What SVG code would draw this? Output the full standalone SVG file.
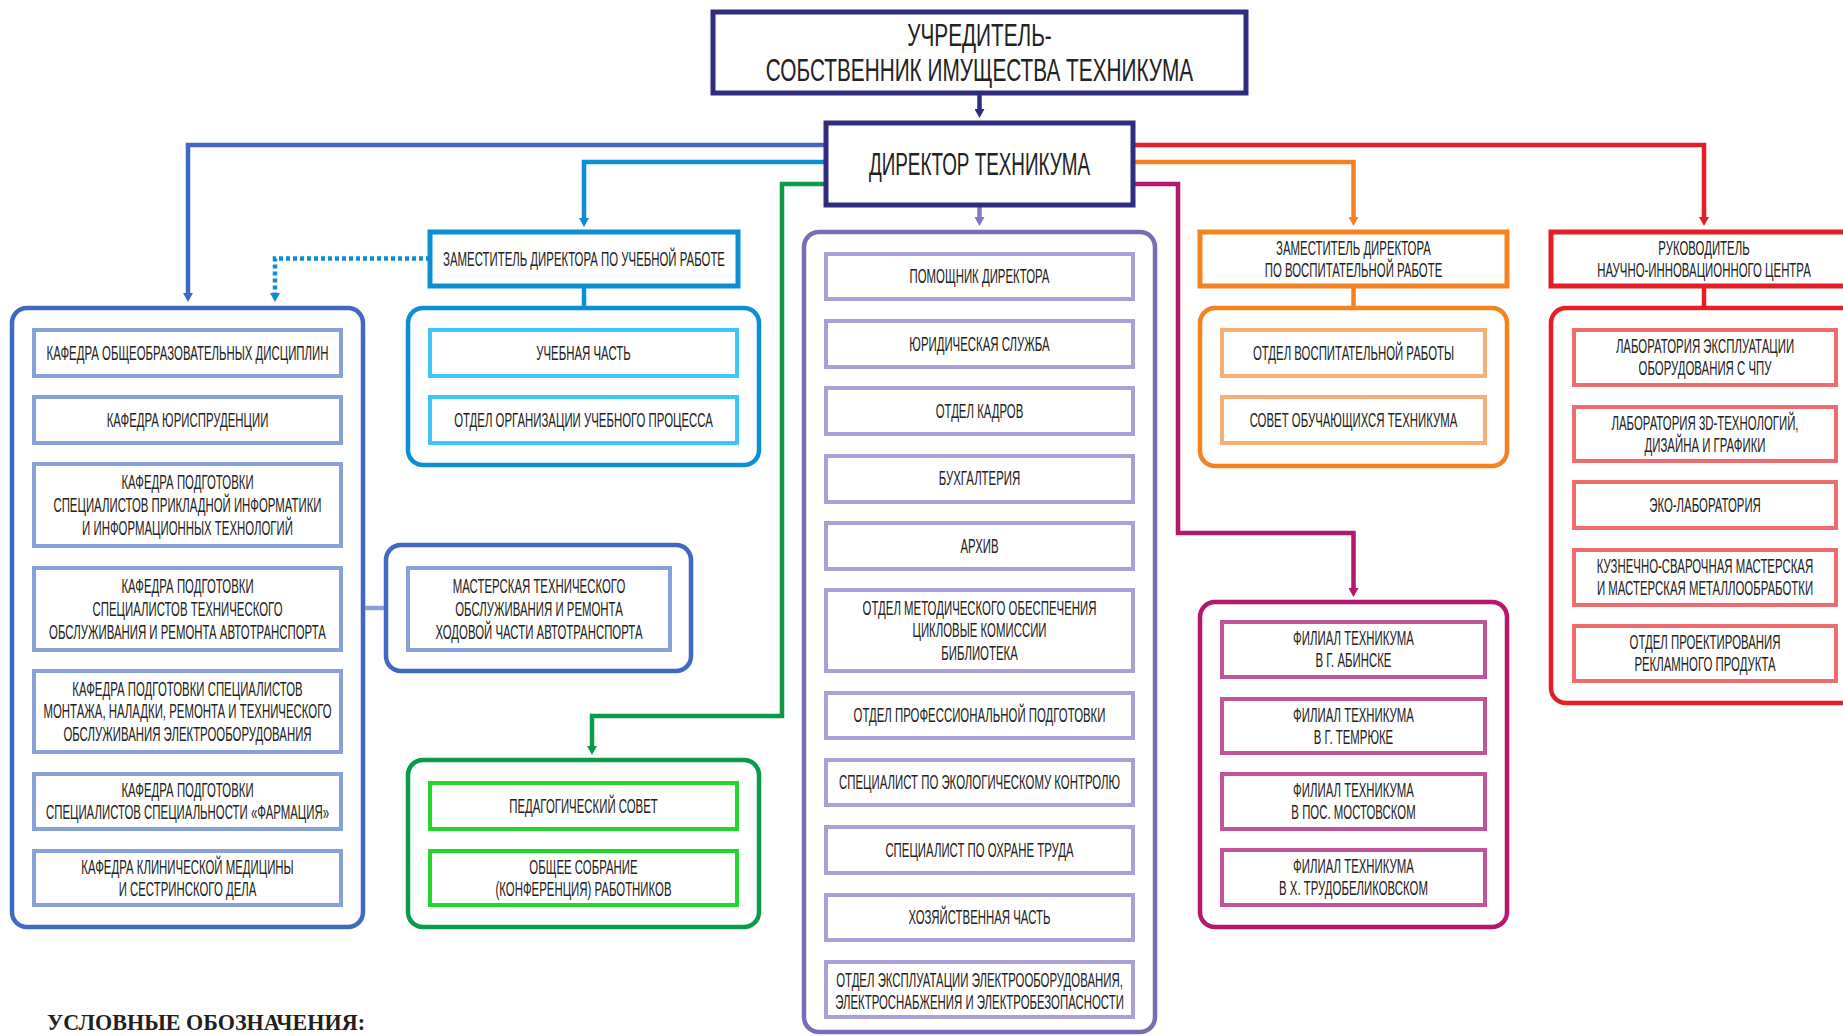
<svg xmlns="http://www.w3.org/2000/svg" width="1843" height="1036" viewBox="0 0 1843 1036">
<style>
.bg{fill:#fff}
.c{fill:#fff;stroke-width:4.5}
.ib{fill:#fff;stroke-width:4}
.hb{fill:#fff;stroke-width:5}
.ln{fill:none;stroke-width:4.5}
.t{font-family:'Liberation Sans',Arial,sans-serif;font-size:19.5px;fill:#222;text-anchor:middle}
.T{font-size:32px}
.navy{stroke:#302d7e}
.blue{stroke:#4169c3}
.blueL{stroke:#88a2d7}
.sky{stroke:#0b8fd3}
.skyL{stroke:#40c6f3}
.green{stroke:#0a9b48}
.greenL{stroke:#22d62a}
.purple{stroke:#7a6db5}
.purpleL{stroke:#aaa0d6}
.orange{stroke:#f58220}
.orangeL{stroke:#f7ae77}
.mag{stroke:#b5176e}
.magL{stroke:#c2559a}
.red{stroke:#e31e26}
.redL{stroke:#ef6b70}
.legend{font-family:'Liberation Serif','Times New Roman',serif;font-weight:bold;font-size:23px;fill:#231f20}
</style>
<defs>
<marker id="m-navy" viewBox="0 0 9 10" refX="4" refY="5" markerWidth="9" markerHeight="10" markerUnits="userSpaceOnUse" orient="auto"><path d="M0 0L9 5L0 10z" fill="#302d7e"/></marker>
<marker id="m-blue" viewBox="0 0 9 10" refX="4" refY="5" markerWidth="9" markerHeight="10" markerUnits="userSpaceOnUse" orient="auto"><path d="M0 0L9 5L0 10z" fill="#4169c3"/></marker>
<marker id="m-sky" viewBox="0 0 9 10" refX="4" refY="5" markerWidth="9" markerHeight="10" markerUnits="userSpaceOnUse" orient="auto"><path d="M0 0L9 5L0 10z" fill="#0b8fd3"/></marker>
<marker id="m-green" viewBox="0 0 9 10" refX="4" refY="5" markerWidth="9" markerHeight="10" markerUnits="userSpaceOnUse" orient="auto"><path d="M0 0L9 5L0 10z" fill="#0a9b48"/></marker>
<marker id="m-purple" viewBox="0 0 9 10" refX="4" refY="5" markerWidth="9" markerHeight="10" markerUnits="userSpaceOnUse" orient="auto"><path d="M0 0L9 5L0 10z" fill="#8178bf"/></marker>
<marker id="m-orange" viewBox="0 0 9 10" refX="4" refY="5" markerWidth="9" markerHeight="10" markerUnits="userSpaceOnUse" orient="auto"><path d="M0 0L9 5L0 10z" fill="#f58220"/></marker>
<marker id="m-mag" viewBox="0 0 9 10" refX="4" refY="5" markerWidth="9" markerHeight="10" markerUnits="userSpaceOnUse" orient="auto"><path d="M0 0L9 5L0 10z" fill="#b5176e"/></marker>
<marker id="m-red" viewBox="0 0 9 10" refX="4" refY="5" markerWidth="9" markerHeight="10" markerUnits="userSpaceOnUse" orient="auto"><path d="M0 0L9 5L0 10z" fill="#e31e26"/></marker>
</defs>
<rect class="bg" x="0" y="0" width="1843" height="1036"/>

<g id="connectors">
<path class="ln navy" d="M979.5 93V113" marker-end="url(#m-navy)"/>
<path class="ln blue" d="M826 145H188V297" marker-end="url(#m-blue)"/>
<path class="ln sky" d="M826 162H584V222" marker-end="url(#m-sky)"/>
<path class="ln green" d="M826 184H782V716H592V750" marker-end="url(#m-green)"/>
<path class="ln" stroke="#8178bf" d="M979.5 205V221" marker-end="url(#m-purple)"/>
<path class="ln red" d="M1133 145H1704V221" marker-end="url(#m-red)"/>
<path class="ln orange" d="M1133 162H1353.5V221" marker-end="url(#m-orange)"/>
<path class="ln mag" d="M1133 184H1178V533H1353.5V592" marker-end="url(#m-mag)"/>
<path class="ln sky" stroke-dasharray="4 3" d="M430 258.5H275V297" marker-end="url(#m-sky)"/>
<path class="ln sky" d="M584 286V308"/>
<path class="ln orange" d="M1353.5 286V308"/>
<path class="ln red" d="M1704 286V308"/>
<path class="ln blueL" d="M341 608H386"/>
</g>

<g id="founder">
<rect class="hb navy" x="713" y="12" width="533" height="81"/>
<text class="t T" transform="translate(979.5 0) scale(0.65 1)"><tspan x="0" y="46.5">УЧРЕДИТЕЛЬ-</tspan><tspan x="0" y="81">СОБСТВЕННИК ИМУЩЕСТВА ТЕХНИКУМА</tspan></text>
</g>

<g id="director">
<rect class="hb navy" x="826" y="123" width="307" height="82"/>
<text class="t T" transform="translate(979.5 0) scale(0.59 1)"><tspan x="0" y="175.5">ДИРЕКТОР ТЕХНИКУМА</tspan></text>
</g>

<g id="departments">
<rect class="c blue" x="12" y="308" width="351" height="619" rx="15"/>
<g id="dep1"><rect class="ib blueL" x="34" y="330" width="307" height="46"/>
<text class="t" transform="translate(187.5 0) scale(0.585 1)"><tspan x="0" y="360">КАФЕДРА ОБЩЕОБРАЗОВАТЕЛЬНЫХ ДИСЦИПЛИН</tspan></text></g>
<g id="dep2"><rect class="ib blueL" x="34" y="397" width="307" height="46"/>
<text class="t" transform="translate(187.5 0) scale(0.585 1)"><tspan x="0" y="427">КАФЕДРА ЮРИСПРУДЕНЦИИ</tspan></text></g>
<g id="dep3"><rect class="ib blueL" x="34" y="464" width="307" height="82"/>
<text class="t" transform="translate(187.5 0) scale(0.585 1)"><tspan x="0" y="489.3">КАФЕДРА ПОДГОТОВКИ</tspan><tspan x="0" y="512">СПЕЦИАЛИСТОВ ПРИКЛАДНОЙ ИНФОРМАТИКИ</tspan><tspan x="0" y="534.7">И ИНФОРМАЦИОННЫХ ТЕХНОЛОГИЙ</tspan></text></g>
<g id="dep4"><rect class="ib blueL" x="34" y="568" width="307" height="82"/>
<text class="t" transform="translate(187.5 0) scale(0.585 1)"><tspan x="0" y="593.3">КАФЕДРА ПОДГОТОВКИ</tspan><tspan x="0" y="616">СПЕЦИАЛИСТОВ ТЕХНИЧЕСКОГО</tspan><tspan x="0" y="638.7">ОБСЛУЖИВАНИЯ И РЕМОНТА АВТОТРАНСПОРТА</tspan></text></g>
<g id="dep5"><rect class="ib blueL" x="34" y="671" width="307" height="81"/>
<text class="t" transform="translate(187.5 0) scale(0.585 1)"><tspan x="0" y="696">КАФЕДРА ПОДГОТОВКИ СПЕЦИАЛИСТОВ</tspan><tspan x="0" y="718.5">МОНТАЖА, НАЛАДКИ, РЕМОНТА И ТЕХНИЧЕСКОГО</tspan><tspan x="0" y="741">ОБСЛУЖИВАНИЯ ЭЛЕКТРООБОРУДОВАНИЯ</tspan></text></g>
<g id="dep6"><rect class="ib blueL" x="34" y="774" width="307" height="55"/>
<text class="t" transform="translate(187.5 0) scale(0.585 1)"><tspan x="0" y="797.5">КАФЕДРА ПОДГОТОВКИ</tspan><tspan x="0" y="819.5">СПЕЦИАЛИСТОВ СПЕЦИАЛЬНОСТИ «ФАРМАЦИЯ»</tspan></text></g>
<g id="dep7"><rect class="ib blueL" x="34" y="851" width="307" height="54"/>
<text class="t" transform="translate(187.5 0) scale(0.585 1)"><tspan x="0" y="874">КАФЕДРА КЛИНИЧЕСКОЙ МЕДИЦИНЫ</tspan><tspan x="0" y="896">И СЕСТРИНСКОГО ДЕЛА</tspan></text></g>
</g>

<g id="workshop">
<rect class="c blue" x="386" y="545" width="305" height="126" rx="15"/>
<rect class="ib blueL" x="408" y="568" width="262" height="82"/>
<text class="t" transform="translate(539 0) scale(0.585 1)"><tspan x="0" y="593.3">МАСТЕРСКАЯ ТЕХНИЧЕСКОГО</tspan><tspan x="0" y="616">ОБСЛУЖИВАНИЯ И РЕМОНТА</tspan><tspan x="0" y="638.7">ХОДОВОЙ ЧАСТИ АВТОТРАНСПОРТА</tspan></text>
</g>

<g id="deputy-study">
<rect class="hb sky" x="430" y="232" width="308" height="54"/>
<text class="t" transform="translate(584 0) scale(0.585 1)"><tspan x="0" y="266">ЗАМЕСТИТЕЛЬ ДИРЕКТОРА ПО УЧЕБНОЙ РАБОТЕ</tspan></text>
</g>

<g id="study-units">
<rect class="c sky" x="408" y="308" width="351" height="157" rx="15"/>
<g id="study1"><rect class="ib skyL" x="430" y="330" width="307" height="46"/>
<text class="t" transform="translate(583.5 0) scale(0.585 1)"><tspan x="0" y="360">УЧЕБНАЯ ЧАСТЬ</tspan></text></g>
<g id="study2"><rect class="ib skyL" x="430" y="397" width="307" height="46"/>
<text class="t" transform="translate(583.5 0) scale(0.585 1)"><tspan x="0" y="427">ОТДЕЛ ОРГАНИЗАЦИИ УЧЕБНОГО ПРОЦЕССА</tspan></text></g>
</g>

<g id="councils">
<rect class="c green" x="408" y="760" width="351" height="167" rx="15"/>
<g id="council1"><rect class="ib greenL" x="430" y="783" width="307" height="46"/>
<text class="t" transform="translate(583.5 0) scale(0.585 1)"><tspan x="0" y="813">ПЕДАГОГИЧЕСКИЙ СОВЕТ</tspan></text></g>
<g id="council2"><rect class="ib greenL" x="430" y="851" width="307" height="54"/>
<text class="t" transform="translate(583.5 0) scale(0.585 1)"><tspan x="0" y="874">ОБЩЕЕ СОБРАНИЕ</tspan><tspan x="0" y="896">(КОНФЕРЕНЦИЯ) РАБОТНИКОВ</tspan></text></g>
</g>

<g id="services">
<rect class="c purple" x="804" y="232" width="351" height="800" rx="15"/>
<g id="svc1"><rect class="ib purpleL" x="826" y="254" width="307" height="45"/>
<text class="t" transform="translate(979.5 0) scale(0.585 1)"><tspan x="0" y="283.5">ПОМОЩНИК ДИРЕКТОРА</tspan></text></g>
<g id="svc2"><rect class="ib purpleL" x="826" y="321" width="307" height="46"/>
<text class="t" transform="translate(979.5 0) scale(0.585 1)"><tspan x="0" y="351">ЮРИДИЧЕСКАЯ СЛУЖБА</tspan></text></g>
<g id="svc3"><rect class="ib purpleL" x="826" y="388" width="307" height="46"/>
<text class="t" transform="translate(979.5 0) scale(0.585 1)"><tspan x="0" y="418">ОТДЕЛ КАДРОВ</tspan></text></g>
<g id="svc4"><rect class="ib purpleL" x="826" y="456" width="307" height="46"/>
<text class="t" transform="translate(979.5 0) scale(0.585 1)"><tspan x="0" y="485.5">БУХГАЛТЕРИЯ</tspan></text></g>
<g id="svc5"><rect class="ib purpleL" x="826" y="523" width="307" height="46"/>
<text class="t" transform="translate(979.5 0) scale(0.585 1)"><tspan x="0" y="553">АРХИВ</tspan></text></g>
<g id="svc6"><rect class="ib purpleL" x="826" y="590" width="307" height="81"/>
<text class="t" transform="translate(979.5 0) scale(0.585 1)"><tspan x="0" y="615">ОТДЕЛ МЕТОДИЧЕСКОГО ОБЕСПЕЧЕНИЯ</tspan><tspan x="0" y="637.5">ЦИКЛОВЫЕ КОМИССИИ</tspan><tspan x="0" y="660">БИБЛИОТЕКА</tspan></text></g>
<g id="svc7"><rect class="ib purpleL" x="826" y="693" width="307" height="45"/>
<text class="t" transform="translate(979.5 0) scale(0.585 1)"><tspan x="0" y="722.5">ОТДЕЛ ПРОФЕССИОНАЛЬНОЙ ПОДГОТОВКИ</tspan></text></g>
<g id="svc8"><rect class="ib purpleL" x="826" y="760" width="307" height="45"/>
<text class="t" transform="translate(979.5 0) scale(0.585 1)"><tspan x="0" y="789.5">СПЕЦИАЛИСТ ПО ЭКОЛОГИЧЕСКОМУ КОНТРОЛЮ</tspan></text></g>
<g id="svc9"><rect class="ib purpleL" x="826" y="827" width="307" height="46"/>
<text class="t" transform="translate(979.5 0) scale(0.585 1)"><tspan x="0" y="857">СПЕЦИАЛИСТ ПО ОХРАНЕ ТРУДА</tspan></text></g>
<g id="svc10"><rect class="ib purpleL" x="826" y="895" width="307" height="45"/>
<text class="t" transform="translate(979.5 0) scale(0.585 1)"><tspan x="0" y="924.5">ХОЗЯЙСТВЕННАЯ ЧАСТЬ</tspan></text></g>
<g id="svc11"><rect class="ib purpleL" x="826" y="962" width="307" height="55"/>
<text class="t" transform="translate(979.5 0) scale(0.585 1)"><tspan x="0" y="987">ОТДЕЛ ЭКСПЛУАТАЦИИ ЭЛЕКТРООБОРУДОВАНИЯ,</tspan><tspan x="0" y="1009">ЭЛЕКТРОСНАБЖЕНИЯ И ЭЛЕКТРОБЕЗОПАСНОСТИ</tspan></text></g>
</g>

<g id="deputy-education">
<rect class="hb orange" x="1200" y="232" width="307" height="54"/>
<text class="t" transform="translate(1353.5 0) scale(0.585 1)"><tspan x="0" y="255">ЗАМЕСТИТЕЛЬ ДИРЕКТОРА</tspan><tspan x="0" y="277">ПО ВОСПИТАТЕЛЬНОЙ РАБОТЕ</tspan></text>
</g>

<g id="education-units">
<rect class="c orange" x="1200" y="308" width="307" height="158" rx="15"/>
<g id="edu1"><rect class="ib orangeL" x="1222" y="330" width="263" height="46"/>
<text class="t" transform="translate(1353.5 0) scale(0.585 1)"><tspan x="0" y="360">ОТДЕЛ ВОСПИТАТЕЛЬНОЙ РАБОТЫ</tspan></text></g>
<g id="edu2"><rect class="ib orangeL" x="1222" y="397" width="263" height="46"/>
<text class="t" transform="translate(1353.5 0) scale(0.585 1)"><tspan x="0" y="427">СОВЕТ ОБУЧАЮЩИХСЯ ТЕХНИКУМА</tspan></text></g>
</g>

<g id="branches">
<rect class="c mag" x="1200" y="602" width="307" height="325" rx="15"/>
<g id="br1"><rect class="ib magL" x="1222" y="622" width="263" height="55"/>
<text class="t" transform="translate(1353.5 0) scale(0.585 1)"><tspan x="0" y="645.5">ФИЛИАЛ ТЕХНИКУМА</tspan><tspan x="0" y="667.5">В Г. АБИНСКЕ</tspan></text></g>
<g id="br2"><rect class="ib magL" x="1222" y="699" width="263" height="54"/>
<text class="t" transform="translate(1353.5 0) scale(0.585 1)"><tspan x="0" y="722">ФИЛИАЛ ТЕХНИКУМА</tspan><tspan x="0" y="744">В Г. ТЕМРЮКЕ</tspan></text></g>
<g id="br3"><rect class="ib magL" x="1222" y="774" width="263" height="55"/>
<text class="t" transform="translate(1353.5 0) scale(0.585 1)"><tspan x="0" y="797.5">ФИЛИАЛ ТЕХНИКУМА</tspan><tspan x="0" y="819.5">В ПОС. МОСТОВСКОМ</tspan></text></g>
<g id="br4"><rect class="ib magL" x="1222" y="850" width="263" height="55"/>
<text class="t" transform="translate(1353.5 0) scale(0.585 1)"><tspan x="0" y="873.5">ФИЛИАЛ ТЕХНИКУМА</tspan><tspan x="0" y="895.5">В Х. ТРУДОБЕЛИКОВСКОМ</tspan></text></g>
</g>

<g id="head-innovation">
<rect class="hb red" x="1551" y="232" width="306" height="54"/>
<text class="t" transform="translate(1704 0) scale(0.585 1)"><tspan x="0" y="255">РУКОВОДИТЕЛЬ</tspan><tspan x="0" y="277">НАУЧНО-ИННОВАЦИОННОГО ЦЕНТРА</tspan></text>
</g>

<g id="labs">
<rect class="c red" x="1551" y="308" width="306" height="395" rx="15"/>
<g id="lab1"><rect class="ib redL" x="1574" y="330" width="262" height="55"/>
<text class="t" transform="translate(1705 0) scale(0.585 1)"><tspan x="0" y="353.5">ЛАБОРАТОРИЯ ЭКСПЛУАТАЦИИ</tspan><tspan x="0" y="375.5">ОБОРУДОВАНИЯ С ЧПУ</tspan></text></g>
<g id="lab2"><rect class="ib redL" x="1574" y="407" width="262" height="54"/>
<text class="t" transform="translate(1705 0) scale(0.585 1)"><tspan x="0" y="430">ЛАБОРАТОРИЯ 3D-ТЕХНОЛОГИЙ,</tspan><tspan x="0" y="452">ДИЗАЙНА И ГРАФИКИ</tspan></text></g>
<g id="lab3"><rect class="ib redL" x="1574" y="482" width="262" height="46"/>
<text class="t" transform="translate(1705 0) scale(0.585 1)"><tspan x="0" y="512">ЭКО-ЛАБОРАТОРИЯ</tspan></text></g>
<g id="lab4"><rect class="ib redL" x="1574" y="550" width="262" height="55"/>
<text class="t" transform="translate(1705 0) scale(0.585 1)"><tspan x="0" y="573.5">КУЗНЕЧНО-СВАРОЧНАЯ МАСТЕРСКАЯ</tspan><tspan x="0" y="595.5">И МАСТЕРСКАЯ МЕТАЛЛООБРАБОТКИ</tspan></text></g>
<g id="lab5"><rect class="ib redL" x="1574" y="626" width="262" height="55"/>
<text class="t" transform="translate(1705 0) scale(0.585 1)"><tspan x="0" y="649.5">ОТДЕЛ ПРОЕКТИРОВАНИЯ</tspan><tspan x="0" y="671.5">РЕКЛАМНОГО ПРОДУКТА</tspan></text></g>
</g>

<text class="legend" x="47" y="1030" textLength="318" lengthAdjust="spacingAndGlyphs">УСЛОВНЫЕ ОБОЗНАЧЕНИЯ:</text>
</svg>
